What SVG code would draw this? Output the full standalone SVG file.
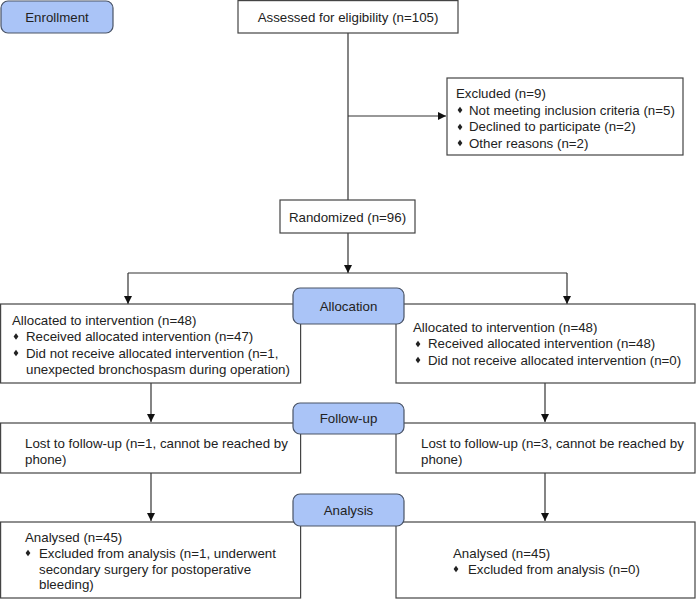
<svg xmlns="http://www.w3.org/2000/svg" xmlns:xlink="http://www.w3.org/1999/xlink" width="696" height="599" viewBox="0 0 696 599">
<style>
  .box{fill:#ffffff;stroke:#444444;stroke-width:1.2}
  .stage{fill:#aac4f7;stroke:#4a5466;stroke-width:1.2}
  .t{font-family:"Liberation Sans",Arial,sans-serif;font-size:13.3px;fill:#222222}
  .c{text-anchor:middle}
  .ln{fill:none;stroke:#333333;stroke-width:1.2}
  .dia{fill:#222222}
</style>
<defs>
  <marker id="arr" markerWidth="10" markerHeight="10" refX="8" refY="4" orient="auto" markerUnits="userSpaceOnUse">
    <path d="M0,0 L8,4 L0,8 z" fill="#111111"/>
  </marker>
  <path id="d" class="dia" d="M0,-3.2 L2.4,0 L0,3.2 L-2.4,0 z"/>
</defs>
<rect width="696" height="599" fill="#ffffff"/>

<g id="connectors">
  <line class="ln" x1="348" y1="33" x2="348" y2="200"/>
  <line class="ln" x1="348" y1="116" x2="446" y2="116" marker-end="url(#arr)"/>
  <line class="ln" x1="348" y1="233" x2="348" y2="273" marker-end="url(#arr)"/>
  <polyline class="ln" points="128,273 567,273"/>
  <line class="ln" x1="128" y1="273" x2="128" y2="304" marker-end="url(#arr)"/>
  <line class="ln" x1="567" y1="273" x2="567" y2="304" marker-end="url(#arr)"/>
  <line class="ln" x1="151" y1="383" x2="151" y2="422" marker-end="url(#arr)"/>
  <line class="ln" x1="545" y1="383" x2="545" y2="422" marker-end="url(#arr)"/>
  <line class="ln" x1="151" y1="473" x2="151" y2="521" marker-end="url(#arr)"/>
  <line class="ln" x1="545" y1="473" x2="545" y2="521" marker-end="url(#arr)"/>
</g>

<g id="enrollment">
  <rect class="stage" x="1" y="1" width="112" height="32" rx="7"/>
  <text class="t c" x="57" y="21.5">Enrollment</text>
</g>

<g id="assessed">
  <rect class="box" x="238" y="0.6" width="220" height="32.4"/>
  <text class="t c" x="348" y="21.5">Assessed for eligibility (n=105)</text>
</g>

<g id="excluded">
  <rect class="box" x="447" y="78" width="236" height="77"/>
  <text class="t" x="456" y="98">Excluded (n=9)</text>
  <use xlink:href="#d" x="460" y="110"/>
  <text class="t" x="469" y="114.5">Not meeting inclusion criteria (n=5)</text>
  <use xlink:href="#d" x="460" y="127"/>
  <text class="t" x="469" y="131">Declined to participate (n=2)</text>
  <use xlink:href="#d" x="460" y="143"/>
  <text class="t" x="469" y="147.5">Other reasons (n=2)</text>
</g>

<g id="randomized">
  <rect class="box" x="280" y="200" width="135" height="33"/>
  <text class="t c" x="347.5" y="221.5">Randomized (n=96)</text>
</g>

<g id="alloc-left">
  <rect class="box" x="0.6" y="304" width="300" height="79"/>
  <text class="t" x="12" y="324.5">Allocated to intervention (n=48)</text>
  <use xlink:href="#d" x="16" y="336.5"/>
  <text class="t" x="26" y="341">Received allocated intervention (n=47)</text>
  <use xlink:href="#d" x="16" y="353"/>
  <text class="t" x="26" y="357.5">Did not receive allocated intervention (n=1,</text>
  <text class="t" x="26" y="374">unexpected bronchospasm during operation)</text>
</g>

<g id="alloc-right">
  <rect class="box" x="396" y="304" width="299" height="79"/>
  <text class="t" x="413" y="331.5">Allocated to intervention (n=48)</text>
  <use xlink:href="#d" x="418" y="344"/>
  <text class="t" x="428" y="348">Received allocated intervention (n=48)</text>
  <use xlink:href="#d" x="418" y="360"/>
  <text class="t" x="428" y="364.5">Did not receive allocated intervention (n=0)</text>
</g>

<g id="allocation">
  <rect class="stage" x="293" y="288" width="111" height="36" rx="7"/>
  <text class="t c" x="348.5" y="310.5">Allocation</text>
</g>

<g id="lost-left">
  <rect class="box" x="0.6" y="423" width="300" height="50"/>
  <text class="t" x="25" y="447.5">Lost to follow-up (n=1, cannot be reached by</text>
  <text class="t" x="25" y="464">phone)</text>
</g>

<g id="lost-right">
  <rect class="box" x="396" y="423" width="299" height="50"/>
  <text class="t" x="421" y="447.5">Lost to follow-up (n=3, cannot be reached by</text>
  <text class="t" x="421" y="464">phone)</text>
</g>

<g id="followup">
  <rect class="stage" x="293" y="403" width="111" height="31" rx="7"/>
  <text class="t c" x="348.5" y="423">Follow-up</text>
</g>

<g id="analysed-left">
  <rect class="box" x="0.6" y="522" width="300" height="76"/>
  <text class="t" x="25" y="541.5">Analysed (n=45)</text>
  <use xlink:href="#d" x="28" y="553"/>
  <text class="t" x="39" y="557.5">Excluded from analysis (n=1, underwent</text>
  <text class="t" x="39" y="573.5">secondary surgery for postoperative</text>
  <text class="t" x="39" y="589">bleeding)</text>
</g>

<g id="analysed-right">
  <rect class="box" x="396" y="522" width="299" height="76"/>
  <text class="t" x="453" y="557.5">Analysed (n=45)</text>
  <use xlink:href="#d" x="456" y="569"/>
  <text class="t" x="468" y="573.5">Excluded from analysis (n=0)</text>
</g>

<g id="analysis">
  <rect class="stage" x="293" y="494" width="111" height="32" rx="7"/>
  <text class="t c" x="348.5" y="514.5">Analysis</text>
</g>
</svg>
